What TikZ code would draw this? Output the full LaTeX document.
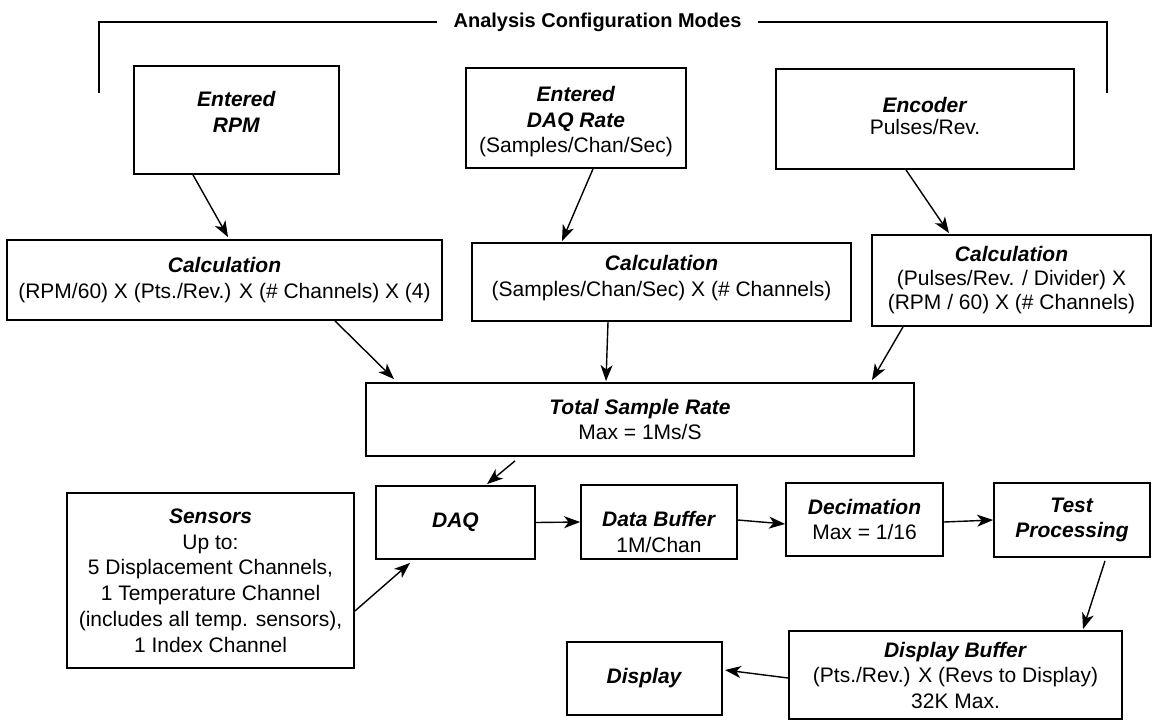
\documentclass[tikz,border=0pt]{standalone}
\usepackage{fontspec}
\setmainfont{Liberation Sans}
\usetikzlibrary{arrows.meta}
\newcommand\bi[1]{\textbf{\textit{#1}}}
\newcommand\stk[2]{\raisebox{#1}[\height][\depth]{\vbox{\halign{\hfil##\hfil\cr #2\crcr}}}}
\begin{document}
\begin{tikzpicture}[x=1pt,y=-1pt,
  box/.style={draw, line width=1.8pt, inner sep=0pt, align=center,
    font=\fontsize{21}{25.5}\selectfont},
  arr/.style={line width=1.4pt, -{Stealth[length=16pt,width=12pt,inset=4.5pt]}},
  brk/.style={line width=1.5pt}]
\useasboundingbox (0,0) rectangle (1154,721);
% bracket
\node[inner xsep=16pt, inner ysep=0pt, font=\fontsize{20}{24}\selectfont\bfseries] (title) at (597.5,22) {Analysis Configuration Modes};
\coordinate (bl) at (99,93);
\coordinate (br) at (1107,93);
\draw[brk] (bl) |- (title.west);
\draw[brk] (title.east) -| (br);
% top boxes
\node[box, minimum width=205pt, minimum height=108pt] (rpm) at (236.5,120) {\stk{8pt}{\bi{Entered}\cr\bi{RPM}}};
\node[box, minimum width=220pt, minimum height=100pt] (daqrate) at (576,118) {\stk{-4pt}{\bi{Entered}\cr\bi{DAQ Rate}\cr(Samples/Chan/Sec)}};
\node[box, minimum width=298pt, minimum height=100pt, font=\fontsize{21}{22.5}\selectfont] (enc) at (925,119) {\stk{3pt}{\bi{Encoder}\cr Pulses/Rev.}};
% calculations
\node[box, minimum width=435pt, minimum height=80pt] (calc1) at (224.5,280) {\bi{Calculation}\\(RPM/60) X (Pts./Rev.) X (\# Channels) X (4)};
\node[box, minimum width=379pt, minimum height=78pt] (calc2) at (661.5,282) {\stk{4pt}{\bi{Calculation}\cr(Samples/Chan/Sec) X (\# Channels)}};
\node[box, minimum width=279pt, minimum height=91pt, font=\fontsize{21}{24}\selectfont] (calc3) at (1011.5,280.5) {\bi{Calculation}\\(Pulses/Rev. / Divider) X\\(RPM / 60) X (\# Channels)};
% total
\node[box, minimum width=548pt, minimum height=73pt] (total) at (640,419.5) {\bi{Total Sample Rate}\\Max = 1Ms/S};
% chain
\node[box, minimum width=287pt, minimum height=175pt, font=\fontsize{21}{25.8}\selectfont] (sens) at (210.5,580.5) {\bi{Sensors}\\Up to:\\5 Displacement Channels,\\1 Temperature Channel\\(includes all temp. sensors),\\1 Index Channel};
\node[box, minimum width=159pt, minimum height=73pt] (daq) at (455.5,522.5) {\bi{DAQ}};
\node[box, minimum width=156pt, minimum height=74pt] (dbuf) at (659,522) {\stk{-10pt}{\bi{Data Buffer}\cr 1M/Chan}};
\node[box, minimum width=157pt, minimum height=73pt] (dec) at (864.5,519.5) {\bi{Decimation}\\Max = 1/16};
\node[box, minimum width=156pt, minimum height=74pt] (test) at (1072,520) {\bi{Test}\\\bi{Processing}};
\node[box, minimum width=333pt, minimum height=88pt] (dispbuf) at (955.5,675) {\bi{Display Buffer}\\(Pts./Rev.) X (Revs to Display)\\32K Max.};
\node[box, minimum width=155pt, minimum height=73pt] (disp) at (644.5,678.5) {\bi{Display}};
% arrows
\draw[arr] ([xshift=-43.5pt]rpm.south) -- ([xshift=3.5pt,yshift=2pt]calc1.north);
\draw[arr] ([xshift=17pt]daqrate.south) -- ([xshift=-99.5pt,yshift=1pt]calc2.north);
\draw[arr] ([xshift=-19pt]enc.south) -- ([xshift=-62.5pt,yshift=1pt]calc3.north);
\draw[arr] ([xshift=110.5pt]calc1.south) -- ([xshift=-246pt,yshift=3pt]total.north);
\draw[arr] ([xshift=-53.5pt]calc2.south) -- ([xshift=-34pt,yshift=1pt]total.north);
\draw[arr] ([xshift=-108.5pt]calc3.south) -- ([xshift=232pt,yshift=2pt]total.north);
\draw[arr] ([xshift=-125pt,yshift=-4pt]total.south) -- ([xshift=31.5pt,yshift=1pt]daq.north);
\draw[arr] ([yshift=-30.5pt]sens.east) -- ([xshift=-45.5pt,yshift=-3pt]daq.south);
\draw[arr] (daq.east) -- (dbuf.west);
\draw[arr] ([yshift=2pt]dbuf.east) -- ([yshift=-4.5pt]dec.west);
\draw[arr] ([yshift=-2.5pt]dec.east) -- (test.west);
\draw[arr] ([xshift=33pt,yshift=-3pt]test.south) -- ([xshift=127.5pt,yshift=1pt]dispbuf.north);
\draw[arr] ([yshift=-3pt]dispbuf.west) -- ([yshift=8.5pt,xshift=2pt]disp.east);
\end{tikzpicture}
\end{document}
